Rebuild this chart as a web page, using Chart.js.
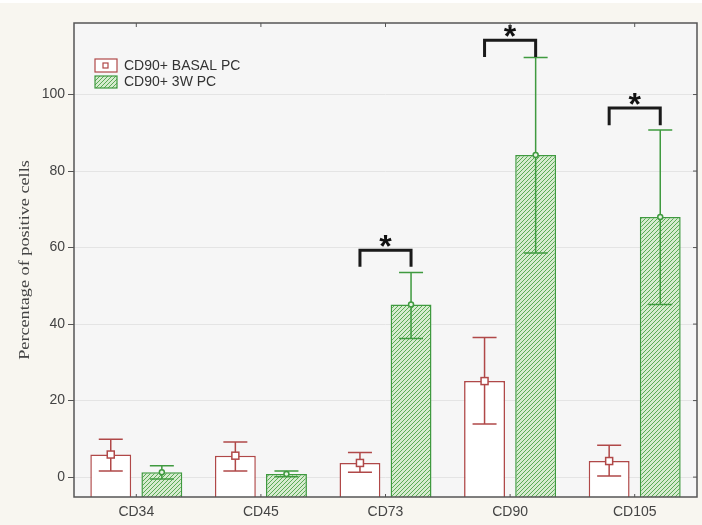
<!DOCTYPE html>
<html>
<head>
<meta charset="utf-8">
<script src="https://cdn.jsdelivr.net/npm/chart.js@4/dist/chart.umd.min.js"></script>
<style>
html,body{margin:0;padding:0;background:#f8f6f0;}
#wrap{width:702px;height:525px;position:relative;}
</style>
</head>
<body>
<div id="wrap"><canvas id="c" width="702" height="525"></canvas></div>
<script>
// ---- data ----
const categories = ["CD34", "CD45", "CD73", "CD90", "CD105"];
const seriesNames = ["CD90+ BASAL PC", "CD90+ 3W PC"];
const basalMean = [5.9, 5.6, 3.7, 25.1, 4.2];
const basalLow  = [1.6, 1.6, 1.3, 13.9, 0.3];
const basalHigh = [9.9, 9.2, 6.4, 36.5, 8.3];
const w3Mean = [1.3, 0.8, 45.1, 84.2, 68.0];
const w3Low  = [-0.5, 0.1, 36.2, 58.6, 45.1];
const w3High = [3.0, 1.6, 53.5, 109.7, 90.7];
const yTickValues = [0, 20, 40, 60, 80, 100];
const yMin = -5.2, yMax = 118.7;
const sigIndex = [2, 3, 4];
const sigBracketTop = [59.3, 114.2, 96.5];
const sigBracketLeg = [55.0, 109.8, 92.0];
const yTitle = "Percentage of positive cells";

const RED = "#b04848";
const GREEN = "#3f9a3f";
const SANS = "'Liberation Sans', Arial, sans-serif";

function hatch() {
  const c = document.createElement("canvas");
  c.width = 4; c.height = 4;
  const x = c.getContext("2d");
  x.fillStyle = "#d6ebcf";
  x.fillRect(0, 0, 4, 4);
  x.strokeStyle = "#5aab55";
  x.lineWidth = 1;
  x.beginPath();
  x.moveTo(-1, 5); x.lineTo(5, -1);
  x.moveTo(-1, 1); x.lineTo(1, -1);
  x.moveTo(3, 5); x.lineTo(5, 3);
  x.stroke();
  return x.createPattern(c, "repeat");
}
const ctx0 = document.getElementById("c").getContext("2d");
const hatchPattern = hatch();

const bgPlugin = {
  id: "bg",
  beforeDraw(chart) {
    const { ctx, chartArea: a } = chart;
    ctx.save();
    ctx.fillStyle = "#f8f6f0";
    ctx.fillRect(0, 0, chart.width, chart.height);
    ctx.fillStyle = "#ffffff";
    ctx.fillRect(0, 0, chart.width, 3);
    ctx.fillStyle = "#f6f6f6";
    ctx.fillRect(a.left, a.top, a.right - a.left, a.bottom - a.top);
    ctx.restore();
  }
};

const overlayPlugin = {
  id: "overlay",
  afterDatasetsDraw(chart) {
    const { ctx, chartArea: a } = chart;
    const ys = chart.scales.y, xs = chart.scales.x;
    const groups = [
      { meta: chart.getDatasetMeta(0), mean: basalMean, lo: basalLow, hi: basalHigh, color: RED, mk: "square" },
      { meta: chart.getDatasetMeta(1), mean: w3Mean, lo: w3Low, hi: w3High, color: GREEN, mk: "circle" }
    ];
    ctx.save();
    groups.forEach(g => {
      g.meta.data.forEach((bar, i) => {
        const x = bar.x;
        const yt = ys.getPixelForValue(g.hi[i]);
        const yb = ys.getPixelForValue(g.lo[i]);
        const ym = ys.getPixelForValue(g.mean[i]);
        ctx.strokeStyle = g.color;
        ctx.lineWidth = 1.5;
        ctx.beginPath();
        ctx.moveTo(x, yt); ctx.lineTo(x, yb);
        ctx.moveTo(x - 12, yt); ctx.lineTo(x + 12, yt);
        ctx.moveTo(x - 12, yb); ctx.lineTo(x + 12, yb);
        ctx.stroke();
        if (g.mk === "square") {
          ctx.fillStyle = "#ffffff";
          ctx.fillRect(x - 3.5, ym - 3.5, 7, 7);
          ctx.strokeRect(x - 3.5, ym - 3.5, 7, 7);
        } else {
          ctx.fillStyle = "#e8f5e4";
          ctx.beginPath(); ctx.arc(x, ym, 2.5, 0, Math.PI * 2); ctx.fill(); ctx.stroke();
        }
      });
    });
    // significance brackets
    const m0 = chart.getDatasetMeta(0), m1 = chart.getDatasetMeta(1);
    sigIndex.forEach((ci, k) => {
      const x1 = m0.data[ci].x, x2 = m1.data[ci].x;
      const yTop = ys.getPixelForValue(sigBracketTop[k]);
      const yLeg = ys.getPixelForValue(sigBracketLeg[k]);
      ctx.strokeStyle = "#1a1a1a";
      ctx.lineWidth = 3;
      ctx.lineJoin = "miter";
      ctx.beginPath();
      ctx.moveTo(x1, yLeg); ctx.lineTo(x1, yTop); ctx.lineTo(x2, yTop); ctx.lineTo(x2, yLeg);
      ctx.stroke();
      ctx.fillStyle = "#111";
      ctx.font = "bold 32px " + SANS;
      ctx.textAlign = "center";
      ctx.textBaseline = "alphabetic";
      ctx.fillText("*", (x1 + x2) / 2, yTop + 7);
    });
    // border and tick marks
    ctx.strokeStyle = "#555";
    ctx.lineWidth = 1.5;
    ctx.strokeRect(a.left, a.top, a.right - a.left, a.bottom - a.top);
    ctx.lineWidth = 1;
    ctx.beginPath();
    categories.forEach((c, i) => {
      const x = xs.getPixelForValue(i);
      ctx.moveTo(x, a.top); ctx.lineTo(x, a.top + 4);
      ctx.moveTo(x, a.bottom); ctx.lineTo(x, a.bottom - 3);
    });
    yTickValues.forEach(v => {
      const y = ys.getPixelForValue(v);
      ctx.moveTo(a.right, y); ctx.lineTo(a.right - 4, y);
    });
    ctx.stroke();
    // legend
    ctx.font = "14px " + SANS;
    ctx.textAlign = "left";
    ctx.textBaseline = "middle";
    ctx.lineWidth = 1.2;
    ctx.fillStyle = "#ffffff";
    ctx.strokeStyle = RED;
    ctx.fillRect(95, 59, 22, 13);
    ctx.strokeRect(95, 59, 22, 13);
    ctx.strokeRect(103, 63, 5, 5);
    ctx.fillStyle = hatchPattern;
    ctx.fillRect(95, 76, 22, 12);
    ctx.strokeStyle = GREEN;
    ctx.strokeRect(95, 76, 22, 12);
    ctx.fillStyle = "#333";
    ctx.fillText(seriesNames[0], 124, 66);
    ctx.fillText(seriesNames[1], 124, 82);
    // y axis title
    ctx.translate(25, (a.top + a.bottom) / 2);
    ctx.rotate(-Math.PI / 2);
    ctx.scale(1.3, 1);
    ctx.font = "14px 'Liberation Serif', 'Times New Roman', serif";
    ctx.textAlign = "center";
    ctx.textBaseline = "middle";
    ctx.fillStyle = "#444";
    ctx.fillText(yTitle, 0, 0);
    ctx.restore();
  }
};

new Chart(ctx0, {
  type: "bar",
  data: {
    labels: categories,
    datasets: [
      { label: seriesNames[0], data: basalMean, base: yMin, backgroundColor: "#ffffff", borderColor: RED, borderWidth: 1.5, borderSkipped: "bottom", categoryPercentage: 0.82, barPercentage: 0.8 },
      { label: seriesNames[1], data: w3Mean, base: yMin, backgroundColor: hatchPattern, borderColor: GREEN, borderWidth: 1.5, borderSkipped: "bottom", categoryPercentage: 0.82, barPercentage: 0.8 }
    ]
  },
  options: {
    responsive: false,
    animation: false,
    layout: { padding: { top: 23, right: 5, left: 0, bottom: 0 } },
    plugins: { legend: { display: false }, tooltip: { enabled: false } },
    scales: {
      x: {
        grid: { display: false, drawTicks: false },
        border: { display: false },
        ticks: { color: "#444", font: { family: SANS, size: 14 }, padding: 7 },
        afterFit(s) { s.height = 28; }
      },
      y: {
        min: yMin, max: yMax,
        afterBuildTicks(s) { s.ticks = yTickValues.map(v => ({ value: v })); },
        grid: { color: "#e4e4e4", lineWidth: 1, tickLength: 6, tickColor: "#555", drawOnChartArea: true },
        border: { display: false },
        ticks: { color: "#444", font: { family: SANS, size: 14 }, padding: 3 },
        afterFit(s) { s.width = 74; }
      }
    }
  },
  plugins: [bgPlugin, overlayPlugin]
});
</script>
</body>
</html>
